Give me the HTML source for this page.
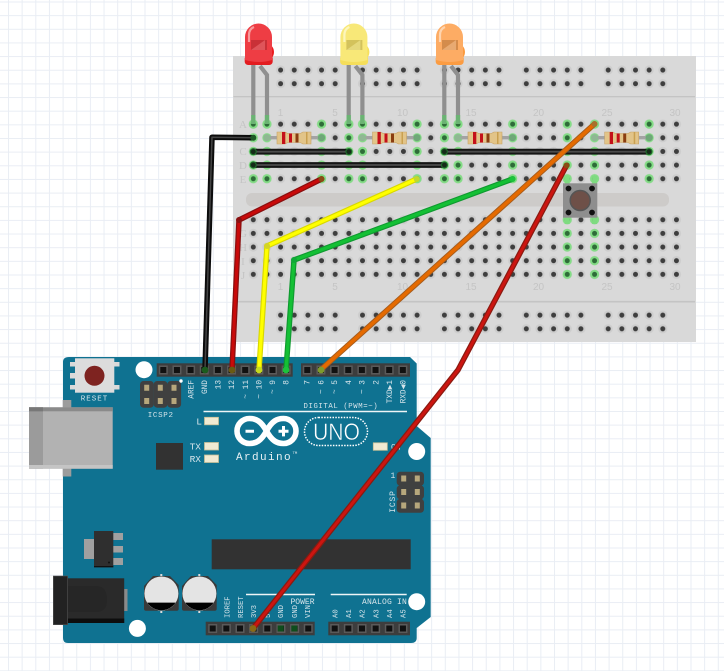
<!DOCTYPE html>
<html><head><meta charset="utf-8"><style>
html,body{margin:0;padding:0;background:#fff}
svg{display:block}
.l{font-family:"Liberation Mono",monospace;font-size:7.5px;fill:#d5e4ea}
.v{font-size:7.8px}
.n{font-family:"Liberation Sans",sans-serif;font-size:10px;fill:#c4c4c4;text-anchor:middle}
.r{font-family:"Liberation Serif",serif;font-size:11px;fill:#c4c4c4;text-anchor:middle}
</style></head><body>
<svg width="724" height="671" viewBox="0 0 724 671" xmlns="http://www.w3.org/2000/svg">
<defs>
<pattern id="grid" patternUnits="userSpaceOnUse" x="8" y="1.5" width="13.65" height="13.65">
<path d="M.5 0V13.65M0 .5H13.65" stroke="#e9edf4" stroke-width="1" fill="none"/></pattern>
<g id="hole"><circle cx="6.825" cy="6.825" r="4.6" fill="#cdcdcd"/><circle cx="6.825" cy="6.825" r="2.5" fill="#3e3e3e"/></g>
<g id="ghole"><circle cx="6.825" cy="6.825" r="4.6" fill="#84dc86"/><circle cx="6.825" cy="6.825" r="2.5" fill="#2e6c38"/></g>
<pattern id="h1" patternUnits="userSpaceOnUse" x="246.475" y="117.3" width="13.65" height="13.65"><use href="#hole"/></pattern>
<pattern id="h2" patternUnits="userSpaceOnUse" x="246.475" y="212.9" width="13.65" height="13.65"><use href="#hole"/></pattern>
<pattern id="h3" patternUnits="userSpaceOnUse" x="246.475" y="63.2" width="13.65" height="13.65"><use href="#hole"/></pattern>
<pattern id="h4" patternUnits="userSpaceOnUse" x="246.475" y="308.3" width="13.65" height="13.65"><use href="#hole"/></pattern>
<pattern id="g1" patternUnits="userSpaceOnUse" x="246.475" y="117.3" width="13.65" height="13.65"><use href="#ghole"/></pattern>
<pattern id="g2" patternUnits="userSpaceOnUse" x="246.475" y="212.9" width="13.65" height="13.65"><use href="#ghole"/></pattern>
<g id="led">
<path d="M253.3 62V124" stroke="#8f8f8f" stroke-width="4.2" fill="none"/>
<path d="M260 66L267 75V124" stroke="#8f8f8f" stroke-width="4.2" fill="none"/>
<path d="M253.3 115V124M267 115V124" stroke="#5fbf6a" stroke-width="4.4" opacity=".75"/>
</g>
<g id="res">
<path d="M266.9 137.7H321.5" stroke="#a3a3a3" stroke-width="3.4"/>
<circle cx="266.9" cy="137.7" r="3.6" fill="#8fb893"/><circle cx="321.5" cy="137.7" r="3.6" fill="#6fa878"/>
<path d="M277 132h8q2 1.500 4 1.500h10q2 0 4-1.500h8v12h-8q-2-1.500-4-1.500h-10q-2 0-4 1.500h-8z" fill="#e2c488" stroke="#c9a468" stroke-width=".6"/>
<rect x="282" y="132" width="3.300" height="12" fill="#c4101a"/>
<rect x="289" y="133.500" width="3" height="9" fill="#c4101a"/>
<rect x="295.500" y="133.500" width="3" height="9" fill="#8a3d10"/>
<rect x="306" y="132" width="1.500" height="12" fill="#c9a050"/>
</g>
</defs>

<rect width="724" height="671" fill="#fff"/>
<rect width="724" height="671" fill="url(#grid)"/>

<!-- breadboard -->
<rect x="233" y="56" width="463" height="286" fill="#d9d9d9"/>
<path d="M233.500 96.700H695" stroke="#bdbdbd" stroke-width="1"/>
<path d="M233.500 301.700H695" stroke="#c4c4c4" stroke-width="1.600"/>
<rect x="246" y="193" width="423" height="13.500" rx="6" fill="#cdcbc9"/>

<rect x="273.775" y="63.200" width="68.250" height="27.300" fill="url(#h3)"/>
<rect x="355.675" y="63.200" width="68.250" height="27.300" fill="url(#h3)"/>
<rect x="437.575" y="63.200" width="68.250" height="27.300" fill="url(#h3)"/>
<rect x="519.475" y="63.200" width="68.250" height="27.300" fill="url(#h3)"/>
<rect x="601.375" y="63.200" width="68.250" height="27.300" fill="url(#h3)"/>
<rect x="273.775" y="308.300" width="68.250" height="27.300" fill="url(#h4)"/>
<rect x="355.675" y="308.300" width="68.250" height="27.300" fill="url(#h4)"/>
<rect x="437.575" y="308.300" width="68.250" height="27.300" fill="url(#h4)"/>
<rect x="519.475" y="308.300" width="68.250" height="27.300" fill="url(#h4)"/>
<rect x="601.375" y="308.300" width="68.250" height="27.300" fill="url(#h4)"/>
<rect x="246.475" y="117.300" width="436.800" height="68.250" fill="url(#h1)"/>
<rect x="246.475" y="212.900" width="436.800" height="68.250" fill="url(#h2)"/>

<!-- connected holes -->
<rect x="246.475" y="117.300" width="27.300" height="68.250" fill="url(#g1)"/>
<rect x="314.725" y="117.300" width="13.650" height="68.250" fill="url(#g1)"/>
<rect x="342.025" y="117.300" width="27.300" height="68.250" fill="url(#g1)"/>
<rect x="410.275" y="117.300" width="13.650" height="68.250" fill="url(#g1)"/>
<rect x="437.575" y="117.300" width="27.300" height="68.250" fill="url(#g1)"/>
<rect x="505.825" y="117.300" width="13.650" height="68.250" fill="url(#g1)"/>
<rect x="560.425" y="117.300" width="13.650" height="68.250" fill="url(#g1)"/>
<rect x="587.725" y="117.300" width="13.650" height="68.250" fill="url(#g1)"/>
<rect x="642.325" y="117.300" width="13.650" height="68.250" fill="url(#g1)"/>
<rect x="560.425" y="212.900" width="13.650" height="68.250" fill="url(#g2)"/>
<rect x="587.725" y="212.900" width="13.650" height="68.250" fill="url(#g2)"/>

<!-- breadboard labels -->
<g class="n">
<text x="280.500" y="116">1</text><text x="335" y="116">5</text><text x="402.500" y="116">10</text><text x="471" y="116">15</text><text x="538.500" y="116">20</text><text x="607" y="116">25</text><text x="675" y="116">30</text>
<text x="280.500" y="290">1</text><text x="335" y="290">5</text><text x="402.500" y="290">10</text><text x="471" y="290">15</text><text x="538.500" y="290">20</text><text x="607" y="290">25</text><text x="675" y="290">30</text>
</g>
<g class="r">
<text x="243" y="128">A</text><text x="243" y="155">C</text><text x="243" y="169">D</text><text x="243" y="183">E</text>
<text x="243" y="237">G</text><text x="243" y="251">H</text><text x="243" y="265">I</text><text x="243" y="279">J</text>
</g>

<!-- LED legs -->
<use href="#led"/><use href="#led" x="95.400"/><use href="#led" x="191"/>

<!-- LEDs -->
<g>
<circle cx="265" cy="52" r="9" fill="#ea1c1f"/><rect x="244.700" y="55" width="28" height="10" rx="3.500" fill="#e31c20"/>
<path d="M245 60V37a13.500 13.500 0 0 1 27 0V60q-13 4-27 0z" fill="#ee3d44"/>
<path d="M251 40h16v10h-16z" fill="#b02a2e" opacity=".6"/><path d="M251 50l14-10v10z" fill="#f57a7e" opacity=".5"/>
<path d="M249 42V35q0-6 5-8" stroke="#f89a9c" stroke-width="2.200" fill="none"/>
</g>
<g transform="translate(95.400 0)">
<circle cx="265" cy="52" r="9" fill="#f6e05e"/><rect x="244.700" y="55" width="28" height="10" rx="3.500" fill="#f5de5a"/>
<path d="M245 60V37a13.500 13.500 0 0 1 27 0V60q-13 4-27 0z" fill="#f8e878"/>
<path d="M251 40h16v10h-16z" fill="#bba94a" opacity=".6"/><path d="M251 50l14-10v10z" fill="#f8ee9c" opacity=".5"/>
<path d="M249 42V35q0-6 5-8" stroke="#fdf6bd" stroke-width="2.200" fill="none"/>
</g>
<g transform="translate(191 0)">
<circle cx="265" cy="52" r="9" fill="#fb9a3e"/><rect x="244.700" y="55" width="28" height="10" rx="3.500" fill="#fb9c42"/>
<path d="M245 60V37a13.500 13.500 0 0 1 27 0V60q-13 4-27 0z" fill="#fdac64"/>
<path d="M251 40h16v10h-16z" fill="#b9763c" opacity=".6"/><path d="M251 50l14-10v10z" fill="#fcc798" opacity=".5"/>
<path d="M249 42V35q0-6 5-8" stroke="#fed4ae" stroke-width="2.200" fill="none"/>
</g>

<!-- resistors -->
<use href="#res"/><use href="#res" x="95.500"/><use href="#res" x="191"/><use href="#res" x="327.700"/>

<!-- bus wires -->
<g fill="none" stroke-linecap="round">
<path d="M253.300 151.700H348.900M253.300 165H444.400M444.400 151.700H649" stroke="#151515" stroke-width="5.800"/>
<path d="M253.300 151.700H348.900M253.300 165H444.400M444.400 151.700H649" stroke="#4c4c4c" stroke-width="1.800"/>
</g>
<g fill="#152a18" stroke="#1f6a2a" stroke-width="1.200">
<circle cx="253.300" cy="151.700" r="3"/><circle cx="348.900" cy="151.700" r="3"/><circle cx="253.300" cy="165" r="3"/><circle cx="444.400" cy="165" r="3"/><circle cx="444.400" cy="151.700" r="3"/><circle cx="649" cy="151.700" r="3"/>
</g>

<!-- button -->
<path d="M567.200 176V184M594.600 176V184M567.200 217V224M594.600 217V224" stroke="#7edb80" stroke-width="5"/>
<rect x="563" y="183.300" width="34.300" height="34.400" fill="#8e8e8e"/>
<circle cx="580.200" cy="200.500" r="10" fill="#6e5048" stroke="#555" stroke-width="1.500"/>
<circle cx="568.500" cy="188.500" r="2.900" fill="#111"/><circle cx="592" cy="188.500" r="2.900" fill="#111"/><circle cx="568.500" cy="212.500" r="2.900" fill="#111"/><circle cx="592" cy="212.500" r="2.900" fill="#111"/>

<!-- Arduino -->
<path d="M69 357H410L416.700 363.500V426L430.700 438V617L416.700 628V638Q416.700 643 411 643H68Q63 643 63 638V362Q63 357 69 357Z" fill="#0f7291"/>
<!-- USB -->
<rect x="62.700" y="400" width="8.600" height="8" fill="#9c9c9c"/><rect x="62.700" y="468" width="8.600" height="8.500" fill="#9c9c9c"/>
<rect x="29" y="407.300" width="83.700" height="61.400" fill="#b2b2b2"/>
<rect x="29" y="407.300" width="14" height="61.400" fill="#9b9b9b"/>
<rect x="29" y="407.300" width="83.700" height="4" fill="#8a8a8a"/><rect x="29" y="407.300" width="14" height="4" fill="#787878"/>
<rect x="29" y="465" width="83.700" height="3.700" fill="#c4c4c4"/>
<!-- reset -->
<path d="M70 362h5v4.500h-5zM70 373h5v5.500h-5zM70 385h5v4.500h-5zM114 362h5.500v4.500h-5.500zM114 385h5.500v4.500h-5.500z" fill="#d9d9d9"/>
<rect x="75" y="358.300" width="39.300" height="34.400" fill="#dcdcdc"/>
<circle cx="94.500" cy="375.800" r="10" fill="#7e2320"/>
<text x="94.500" y="400.500" class="l" text-anchor="middle" style="letter-spacing:1px;font-size:7.500px">RESET</text>
<!-- mounting holes -->
<circle cx="144" cy="369.700" r="8.500" fill="#fff"/><circle cx="416.700" cy="451.500" r="8.500" fill="#fff"/><circle cx="137.400" cy="628.400" r="8.500" fill="#fff"/><circle cx="416.700" cy="601.700" r="8.500" fill="#fff"/>
<!-- ICSP2 -->
<rect x="140" y="381" width="13.800" height="26.700" rx="3.500" fill="#404040"/><rect x="153.700" y="381" width="13.800" height="26.700" rx="3.500" fill="#404040"/><rect x="167.300" y="381" width="13.800" height="26.700" rx="3.500" fill="#404040"/>
<path d="M146.700 384.800v6M160.300 384.800v6M174 384.800v6M146.700 398v6M160.300 398v6M174 398v6" stroke="#b7a77c" stroke-width="5"/>
<circle cx="181" cy="381" r="1.700" fill="#fff"/>
<text x="160.700" y="417" class="l" text-anchor="middle" style="letter-spacing:.7px">ICSP2</text>
<!-- chips -->
<rect x="156" y="443" width="27" height="26.700" fill="#323232"/>
<rect x="211.700" y="539.300" width="199" height="30" fill="#323232"/>
<!-- SMD LEDs -->
<g fill="#f1ead2" stroke="#c7bf96" stroke-width=".8">
<rect x="204.500" y="417.300" width="14" height="7.500"/><rect x="204.500" y="442.500" width="14" height="7.500"/><rect x="204.500" y="455" width="14" height="7.500"/><rect x="373.300" y="442.800" width="14" height="7.500"/>
</g>
<g class="l" style="font-size:9.500px" text-anchor="end">
<text x="202" y="424.500">L</text><text x="201" y="449.500">TX</text><text x="201" y="462">RX</text>
</g>
<text x="391" y="449.500" class="l" style="font-size:8px">ON</text>

<!-- headers -->
<rect x="156.700" y="363.300" width="136" height="13.400" fill="#3d3d3d"/>
<rect x="301" y="363.300" width="109" height="13.400" fill="#3d3d3d"/>
<rect x="205.700" y="621.700" width="109" height="13.600" fill="#3d3d3d"/>
<rect x="328.300" y="621.700" width="81.700" height="13.600" fill="#3d3d3d"/>
<g fill="none">
<path d="M158.800 370H292" stroke="#5a5a5a" stroke-width="9" stroke-dasharray="9 4.650"/>
<path d="M302.800 370H410" stroke="#5a5a5a" stroke-width="9" stroke-dasharray="9 4.650"/>
<path d="M208.200 628.500H313" stroke="#5a5a5a" stroke-width="9" stroke-dasharray="9 4.650"/>
<path d="M330.200 628.500H409" stroke="#5a5a5a" stroke-width="9" stroke-dasharray="9 4.650"/>
<path d="M160.300 370H292" stroke="#111" stroke-width="6" stroke-dasharray="6 7.650"/>
<path d="M304.300 370H410" stroke="#111" stroke-width="6" stroke-dasharray="6 7.650"/>
<path d="M209.700 628.500H313" stroke="#111" stroke-width="6" stroke-dasharray="6 7.650"/>
<path d="M331.700 628.500H409" stroke="#111" stroke-width="6" stroke-dasharray="6 7.650"/>
</g>
<rect x="277.700" y="625.500" width="6" height="6" fill="#0e4d1c"/><rect x="291.300" y="625.500" width="6" height="6" fill="#0e4d1c"/>

<!-- header labels -->
<g class="l v" text-anchor="end">
<text transform="translate(193.500 380) rotate(-90)">AREF</text>
<text transform="translate(206.800 380) rotate(-90)">GND</text>
<text transform="translate(220.500 380) rotate(-90)">13</text>
<text transform="translate(234 380) rotate(-90)">12</text>
<text transform="translate(248 380) rotate(-90)">~ 11</text>
<text transform="translate(261.500 380) rotate(-90)">~ 10</text>
<text transform="translate(275 380) rotate(-90)">~ 9</text>
<text transform="translate(288.500 380) rotate(-90)">8</text>
<text transform="translate(309.500 380) rotate(-90)">7</text>
<text transform="translate(323.500 380) rotate(-90)">~ 6</text>
<text transform="translate(337 380) rotate(-90)">~ 5</text>
<text transform="translate(351 380) rotate(-90)">4</text>
<text transform="translate(364.500 380) rotate(-90)">~ 3</text>
<text transform="translate(378.500 380) rotate(-90)">2</text>
<text transform="translate(392 380) rotate(-90)">TXD▶1</text>
<text transform="translate(405.500 380) rotate(-90)">RXD◀0</text>
</g>
<g class="l" style="font-size:7.200px">
<text transform="translate(229.500 618) rotate(-90)">IOREF</text>
<text transform="translate(243 618) rotate(-90)">RESET</text>
<text transform="translate(256 618) rotate(-90)">3V3</text>
<text transform="translate(270 618) rotate(-90)">5V</text>
<text transform="translate(283 618) rotate(-90)">GND</text>
<text transform="translate(297 618) rotate(-90)">GND</text>
<text transform="translate(310 618) rotate(-90)">VIN</text>
<text transform="translate(337.500 618) rotate(-90)">A0</text>
<text transform="translate(351 618) rotate(-90)">A1</text>
<text transform="translate(364.500 618) rotate(-90)">A2</text>
<text transform="translate(378.500 618) rotate(-90)">A3</text>
<text transform="translate(392 618) rotate(-90)">A4</text>
<text transform="translate(405.500 618) rotate(-90)">A5</text>
</g>
<text x="303.500" y="408" class="l" style="letter-spacing:.6px;font-size:7.300px">DIGITAL (PWM=~)</text>
<path d="M203.500 411.500H407M246 594.500H315M330.700 594.500H406.700" stroke="#eef5f7" stroke-width="1.500"/>
<text x="314.500" y="604" class="l" text-anchor="end" style="font-size:8px">POWER</text>
<text x="407" y="604" class="l" text-anchor="end" style="letter-spacing:.2px;font-size:8px">ANALOG IN</text>

<!-- logo -->
<path d="M266.500 431C261 421 256 418.500 249.500 418.500A12.500 12.500 0 0 0 249.500 443.500C256 443.500 261 441 266.500 431C272 421 277 418.500 283.500 418.500A12.500 12.500 0 0 1 283.500 443.500C277 443.500 272 441 266.500 431Z" fill="none" stroke="#fff" stroke-width="5.600"/>
<path d="M245.500 429.700h8.500v3h-8.500zM278.500 429.700h3.500v-3.700h3v3.700h3.500v3h-3.500v3.700h-3v-3.700h-3.500z" fill="#fff"/>
<rect x="304.500" y="417.500" width="63" height="28" rx="14" fill="none" stroke="#fff" stroke-width="1.500" stroke-dasharray="1.500 1.300"/>
<text x="313" y="440" textLength="47" lengthAdjust="spacingAndGlyphs" style="font-family:'Liberation Sans',sans-serif;font-size:24.500px;fill:#fff;stroke:#0f7291;stroke-width:.5px">UNO</text>
<text x="236" y="460" class="l" style="font-size:11px;letter-spacing:1.400px;fill:#e8f1f4">Arduino</text>
<text x="292.500" y="454" class="l" style="font-size:4px">TM</text>

<!-- ICSP -->
<rect x="396.700" y="471.700" width="27.300" height="14" rx="3.500" fill="#404040"/><rect x="396.700" y="485.300" width="27.300" height="14" rx="3.500" fill="#404040"/><rect x="396.700" y="498.800" width="27.300" height="14" rx="3.500" fill="#404040"/>
<path d="M403.700 475.500v6M417.300 475.500v6M403.700 489v6M417.300 489v6M403.700 502.500v6M417.300 502.500v6" stroke="#b7a77c" stroke-width="5"/>
<text transform="translate(395 512.700) rotate(-90)" class="l" style="letter-spacing:.8px;font-size:8px">ICSP</text>
<text x="390.500" y="478" class="l" style="font-size:8px">1</text>

<!-- regulator -->
<rect x="84" y="539" width="10" height="20" fill="#a0a0a0"/>
<path d="M113 533h10v7h-10zM113 546h10v6.500h-10zM113 558h10v7h-10z" fill="#a0a0a0"/>
<rect x="94" y="531" width="19.300" height="36.300" fill="#2f2f2f"/><rect x="94" y="566" width="19.300" height="1.300" fill="#111"/>
<circle cx="109" cy="562.500" r="1" fill="#111"/>
<!-- jack -->
<rect x="124" y="589" width="3.500" height="22" fill="#8a8a8a"/>
<rect x="67.700" y="578.300" width="56.500" height="44.700" fill="#2a2a2a"/>
<rect x="67.700" y="618.500" width="56.500" height="4.500" fill="#0d0d0d"/>
<path d="M67.700 586H96Q107 586 107 600Q107 612 96 612H67.700Z" fill="#262626"/>
<rect x="53.300" y="576" width="14.400" height="48.700" fill="#222" stroke="#555" stroke-width=".6"/>
<!-- capacitors -->
<g id="cap">
<path d="M146 610.700q-2 0-2-2V586l9-10h17l8.700 9v23.700q0 2-2 2z" fill="#3a3a3a"/>
<circle cx="161.400" cy="593.500" r="17" fill="#e4e4e4"/>
<path d="M147.200 602.600H175.600A17 17 0 0 1 147.200 602.600Z" fill="#000"/>
<rect x="160.300" y="574" width="2" height="2" fill="#ddd"/><rect x="160.300" y="611" width="2" height="2" fill="#ddd"/>
</g>
<use href="#cap" x="38"/>

<!-- wires -->
<g fill="none" stroke-linecap="round" stroke-linejoin="round">
<path d="M253.300 137.700L212 137.200L205 370" stroke="#0c0c0c" stroke-width="5.500"/>
<path d="M253.300 137.700L212 137.200L205 370" stroke="#444" stroke-width="1.500"/>
<path d="M321.500 179L239 220L232 370" stroke="#8a0f0f" stroke-width="5.500"/>
<path d="M321.500 179L239 220L232 370" stroke="#c90a0a" stroke-width="3"/>
<path d="M416.700 179L267 246L259 370" stroke="#d8d800" stroke-width="5.500"/>
<path d="M416.700 179L267 246L259 370" stroke="#ffff00" stroke-width="3.200"/>
<path d="M512.600 179L294 260L286 370" stroke="#0f9a30" stroke-width="5.500"/>
<path d="M512.600 179L294 260L286 370" stroke="#14c035" stroke-width="3.200"/>
<path d="M594.500 124L321 369.500" stroke="#a65c1c" stroke-width="5.500"/>
<path d="M594.500 124L321 369.500" stroke="#e56a00" stroke-width="3.600"/>
<path d="M566.500 165.500L458 370L253 628.500" stroke="#8a1a10" stroke-width="5.500"/>
<path d="M566.500 165.500L458 370L253 628.500" stroke="#cc1510" stroke-width="3"/>
</g>
<circle cx="205" cy="370" r="3.400" fill="#1b5c1e"/><circle cx="232" cy="370" r="3.400" fill="#6a5a12"/>
<circle cx="259" cy="370" r="3.400" fill="#c4d820"/><circle cx="286" cy="370" r="3.400" fill="#1cc23c"/>
<circle cx="321" cy="370" r="3.400" fill="#7e9a2c"/><circle cx="253" cy="628.500" r="3.400" fill="#8a6a14"/>
<circle cx="253.300" cy="137.700" r="3" fill="#1d5a25"/><circle cx="321.500" cy="179" r="3" fill="#8a4a14"/>
<circle cx="416.700" cy="179" r="3" fill="#c0d830"/><circle cx="512.600" cy="179" r="3" fill="#1cc23c"/>
<circle cx="594.500" cy="124" r="3" fill="#a8702c"/><circle cx="566.500" cy="165.500" r="3" fill="#8a4a14"/>
<circle cx="239" cy="220" r="3" fill="#8a1010"/><circle cx="267" cy="246" r="3" fill="#d4d424"/><circle cx="294" cy="260" r="3" fill="#10a838"/>
</svg>
</body></html>
